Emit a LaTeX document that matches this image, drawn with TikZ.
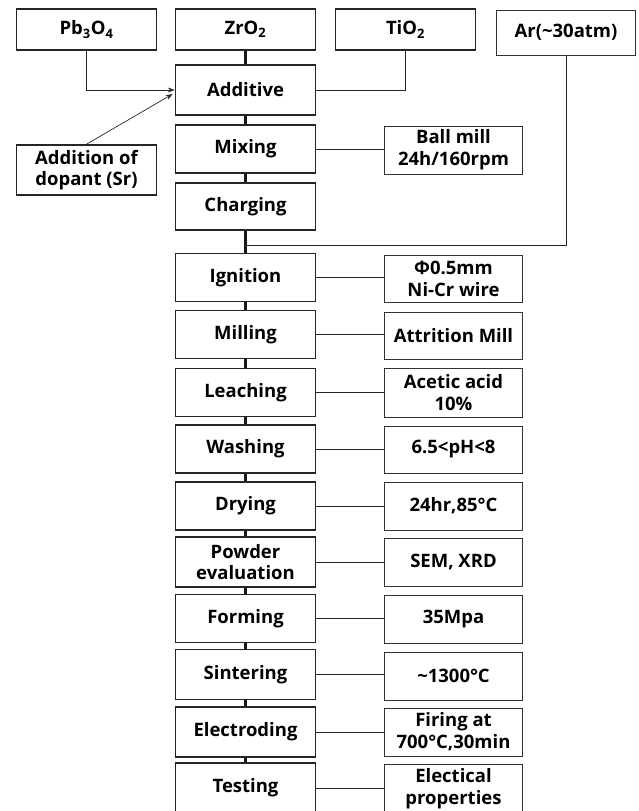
\documentclass[tikz,border=0pt]{standalone}
\usepackage{fontspec}
\setmainfont{Open Sans}
\usetikzlibrary{arrows.meta,calc}
\tikzset{
  lbl/.style={font=\bfseries\fontsize{18.5}{22}\selectfont, align=center, inner sep=0pt},
  mainbox/.style={lbl, draw=black!85, line width=1.6pt, minimum width=140pt, minimum height=48pt},
  sidebox/.style={lbl, draw=black!80, line width=0.7pt, minimum width=138pt, minimum height=47pt},
  flow/.style={draw=black!90, line width=2.4pt},
  link/.style={draw=black!85, line width=0.7pt},
  arr/.style={link, -{Stealth[length=7pt,width=5pt]}}
}
\begin{document}
\begin{tikzpicture}[x=1pt,y=-1pt]
\useasboundingbox (0,0) rectangle (639,811);
% top row
\node[mainbox, minimum height=41pt] (pb) at (86.5,29.5) {Pb\textsubscript{3}O\textsubscript{4}};
\node[mainbox, minimum height=41pt] (zro) at (245.5,29.5) {ZrO\textsubscript{2}};
\node[mainbox, minimum height=41pt] (tio) at (405.5,29.5) {TiO\textsubscript{2}};
\node[sidebox, minimum width=139pt, minimum height=45pt] (ar) at (566,32.5) {Ar(\textasciitilde30atm)};
\node[mainbox, minimum height=50pt] (dop) at (86.5,170) {Addition of\\[-1pt]dopant (Sr)};
% main column
\node[mainbox, minimum height=50pt] (add) at (245.5,90) {Additive};
\node[mainbox] (mix) at (245.5,149) {Mixing};
\node[mainbox, minimum height=47pt] (chg) at (245.5,206.5) {Charging};
\node[mainbox] (ign) at (245.5,277.5) {Ignition};
\node[mainbox] (mil) at (245.5,334.5) {Milling};
\node[mainbox] (lea) at (245.5,392.5) {Leaching};
\node[mainbox] (was) at (245.5,449) {Washing};
\node[mainbox] (dry) at (245.5,506) {Drying};
\node[mainbox, minimum height=50pt] (pow) at (245.5,562) {Powder\\[-1pt]evaluation};
\node[mainbox] (frm) at (245.5,618.5) {Forming};
\node[mainbox, minimum height=50pt] (sin) at (245.5,674.5) {Sintering};
\node[mainbox, minimum height=50pt] (ele) at (245.5,732) {Electroding};
\node[mainbox, minimum height=50pt] (tst) at (245.5,788) {Testing};
% side column
\node[sidebox, minimum height=48pt] (ball) at (453.5,150) {Ball mill\\24h/160rpm};
\node[sidebox] (wire) at (453.5,278.5) {Φ0.5mm\\Ni-Cr wire};
\node[sidebox] (att) at (453.5,335.5) {Attrition Mill};
\node[sidebox, minimum height=49pt] (ace) at (453.5,392.5) {Acetic acid\\10\%};
\node[sidebox] (ph) at (453.5,449.5) {6.5<pH<8};
\node[sidebox, minimum height=48pt] (hr) at (453.5,506) {24hr,85°C};
\node[sidebox, minimum height=48pt] (sem) at (453.5,562) {SEM, XRD};
\node[sidebox, minimum height=48pt] (mpa) at (453.5,619) {35Mpa};
\node[sidebox, minimum height=48pt] (tmp) at (453.5,676) {\textasciitilde1300°C};
\node[sidebox, minimum height=48pt] (fir) at (453.5,732) {Firing at\\700°C,30min};
\node[sidebox, minimum height=50pt] (prop) at (453.5,789) {Electical\\properties};
% main flow
\foreach \a/\b in {zro/add, add/mix, mix/chg, chg/ign, ign/mil, mil/lea, lea/was, was/dry, dry/pow, pow/frm, frm/sin, sin/ele, ele/tst}
  \draw[flow] (\a.south) -- (\b.north);
% side links
\foreach \a/\b in {mix/ball, ign/wire, mil/att, lea/ace, was/ph, dry/hr, pow/sem, frm/mpa, sin/tmp, ele/fir, tst/prop}
  \draw[link] (\a.east) -- (\a.east -| \b.west);
% inputs
\draw[arr] (pb.south) |- (add.west);
\draw[link] (tio.south) |- (add.east);
\draw[arr] (dop.north) -- ($(add.west)+(-2,4)$);
\coordinate (arjoin) at (245.5,245);
\draw[link] (ar.south) |- (arjoin);
\end{tikzpicture}
\end{document}
